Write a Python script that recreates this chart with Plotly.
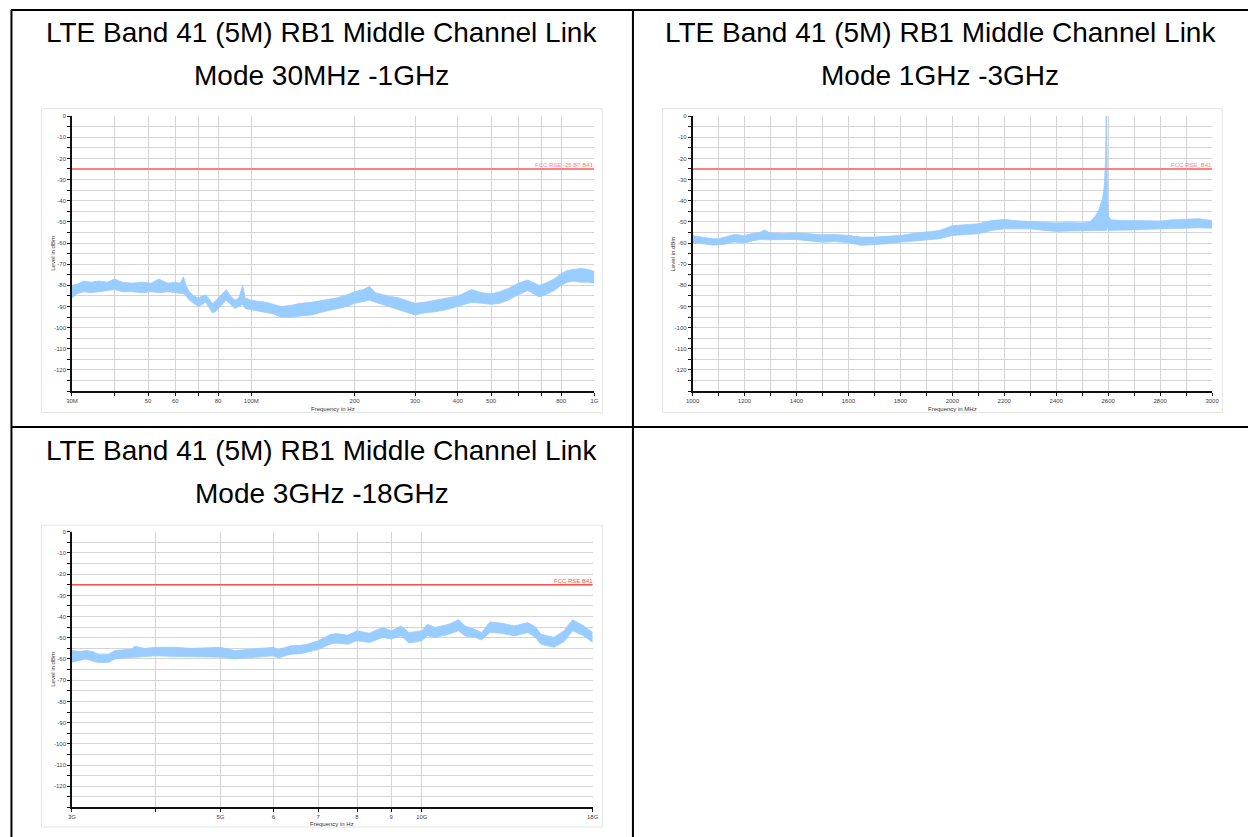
import math
import plotly.graph_objects as go

W, H = 1255, 837

# ---------------- data ----------------
titles_line1 = ["LTE Band 41 (5M) RB1 Middle Channel Link"] * 3
titles_line2 = ["Mode 30MHz -1GHz", "Mode 1GHz -3GHz", "Mode 3GHz -18GHz"]

limit_dbm = -25
limit_labels = ["FCC RSE -25 B7 B41", "FCC RSE_B41", "FCC RSE B41"]

# Chart 1: 30 MHz - 1 GHz (frequency in MHz, band upper / lower in dBm)
c1_freq = [30, 31, 32.5, 34, 36, 38, 40, 42, 45, 48, 51, 53.7, 57, 60, 62, 63.4, 64.5, 66, 68, 70,
           72, 73.5, 75, 77, 78.5, 81, 84.5, 87, 89.5, 92, 94.3, 96, 100, 104, 110, 116, 122, 130,
           139, 150, 162, 177, 190, 200, 212, 221, 230, 250, 270, 300, 320, 344, 370, 400, 439,
           470, 500, 530, 560, 600, 639, 665, 690, 720, 763, 800, 834, 870, 911, 960, 1000]
c1_upper = [-80, -79.5, -78, -78.5, -78, -78.5, -77, -78.5, -79, -78.5, -79, -77, -79, -78.5, -79,
            -76, -80, -83, -85, -86, -85, -84.5, -86, -88.5, -87.5, -85, -82, -85, -87, -86, -80,
            -86, -87, -87.5, -88, -89, -90, -89.5, -88.5, -88, -87, -86, -84.5, -83, -82, -80.5,
            -83.5, -85, -86, -88.5, -88, -87, -86, -85, -82, -83.5, -84, -83, -81.5, -79, -77.5,
            -79, -80, -79, -77, -74.5, -73, -72.5, -72, -72.5, -73.5]
c1_lower = [-86, -84, -83, -83.5, -83, -82.5, -82, -83, -83, -83.5, -83, -83.5, -83, -83.5, -84,
            -84, -85, -87, -88.5, -90, -89, -88, -90, -93, -92.5, -90, -87, -89, -91, -90, -89,
            -91, -91.5, -92, -92.5, -93.5, -95, -95, -94.5, -94, -92.5, -91, -90, -88.5, -87.5,
            -87, -88, -90, -91.5, -94, -93, -92.5, -91.5, -90, -88, -88.5, -89, -88.5, -87, -84.5,
            -82.5, -84, -85.5, -84.5, -82.5, -80, -78.5, -78, -78.5, -78.5, -79]

# Chart 2: 1 GHz - 3 GHz (frequency in MHz)
c2_freq = [1000, 1020, 1050, 1080, 1100, 1130, 1160, 1200, 1230, 1260, 1275, 1300, 1350, 1400, 1450,
           1500, 1550, 1600, 1650, 1700, 1750, 1800, 1850, 1900, 1950, 2000, 2050, 2100, 2150, 2200,
           2250, 2300, 2350, 2400, 2450, 2500, 2530, 2552, 2565, 2578, 2585, 2590, 2592, 2594, 2596,
           2600, 2610, 2650, 2700, 2750, 2800, 2850, 2900, 2950, 3000]
c2_upper = [-56.5, -57, -57.5, -58, -58, -57, -56, -56.4, -55.5, -55, -53.8, -55.3, -55.5, -55.2,
            -55.8, -56.1, -56, -56.4, -57.2, -57.2, -56.8, -56.4, -55.5, -54.9, -54.1, -51.8, -51.3,
            -50.9, -49.4, -48.9, -49.5, -49.8, -50, -50.5, -50.3, -50.5, -50, -47, -44, -39, -33,
            -20, 0.5, 0.5, -25, -47, -49, -49.4, -49.4, -49.5, -49.6, -49, -48.6, -48.5, -49.4]
c2_lower = [-60.3, -60, -60.5, -61, -60.8, -60.5, -59.5, -60, -59, -58.3, -58.5, -58.5, -58.5, -58.3,
            -59, -59.6, -59.3, -59.9, -61.1, -60.8, -60.3, -59.6, -59, -58.3, -58, -56.4, -56, -55.6,
            -54.1, -53.3, -53.3, -53.3, -54, -54.5, -54.3, -54.1, -54, -54, -54, -54, -54, -54, -54,
            -54, -52, -54, -54, -54, -53.8, -53.5, -53.3, -53, -53, -52.8, -53]

# Chart 3: 3 GHz - 18 GHz (frequency in GHz)
c3_freq = [3.0, 3.08, 3.15, 3.22, 3.29, 3.40, 3.48, 3.58, 3.69, 3.72, 3.85, 4.0, 4.28, 4.53, 4.8, 5.0,
           5.25, 5.45, 5.68, 6.0, 6.1, 6.37, 6.6, 6.74, 7.0, 7.29, 7.45, 7.75, 8.0, 8.35, 8.74, 9.0,
           9.31, 9.57, 10.0, 10.19, 10.47, 10.97, 11.35, 11.6, 12.0, 12.28, 12.64, 13.15, 13.75,
           14.4, 14.8, 15.06, 15.75, 16.3, 16.8, 17.46, 18.0]
c3_upper = [-56, -56.5, -56, -56.5, -57.7, -57.7, -56, -55.5, -55.3, -54, -55, -54.5, -54.5, -55,
            -54.8, -54.5, -56, -55.5, -55, -54.5, -55.5, -53.8, -53.5, -53, -51.4, -48.5, -48, -48.8,
            -46.7, -47.8, -45.1, -46.7, -44.4, -47.5, -46.7, -43.6, -45.1, -43.6, -41.5, -44.4, -46,
            -47.5, -42.5, -43.1, -44.4, -42.8, -45, -48.3, -49.8, -46.7, -41.5, -44.4, -47.5]
c3_lower = [-61.5, -60.5, -60, -61, -61.6, -61.6, -60, -59.5, -59.2, -59, -59, -58.5, -58.8, -58.8,
            -59, -59.2, -60, -59.5, -59, -58.5, -59.5, -57.7, -57.5, -56.9, -55.5, -53, -52.5, -53,
            -51.4, -52.2, -49.8, -50.6, -49.1, -52.5, -51.4, -49, -49.8, -48.3, -46.7, -49.1, -49.8,
            -51, -47.5, -47.8, -49.1, -47.5, -50, -53, -54.5, -51.9, -46.7, -49.1, -52.2]

y_ticks = list(range(-130, 1, 5))
y_text = [str(v) if (v % 10 == 0 and v != -130) else "" for v in y_ticks]

c1_xticks = [30, 40, 50, 60, 70, 80, 100, 200, 300, 400, 500, 600, 700, 800, 1000]
c1_xtext = ["30M", "", "50", "60", "", "80", "100M", "200", "300", "400", "500", "", "", "800", "1G"]
c2_xticks = list(range(1000, 3001, 100))
c2_xtext = [str(v) if v % 200 == 0 else "" for v in c2_xticks]
c3_xticks = [3, 4, 5, 6, 7, 8, 9, 10, 18]
c3_xtext = ["3G", "", "5G", "6", "7", "8", "9", "10G", "18G"]

x_titles = ["Frequency in Hz", "Frequency in MHz", "Frequency in Hz"]
y_title = "Level in dBm"

# ---------------- layout helpers ----------------
def px(x):
    return x / W

def py(y):
    return 1 - y / H

# plot-area pixel boxes: (left, right, top, bottom)
boxes = [(65.7, 594.0, 113.5, 389.5), (693.3, 1218.7, 113.5, 389.5), (65.7, 592.3, 530.7, 807.3)]
frames = [(35, 602, 106, 411), (663, 1229, 106, 411), (35, 602, 524, 827)]
limit_colors = ["#ff8080", "#ff8080", "#ff4d4d"]
limit_widths = [2, 2, 1.5]
band_color = "#99ccff"
tick_font = dict(family="Liberation Sans, Arial", size=6, color="#444444")

fig = go.Figure()

series = [(c1_freq, c1_upper, c1_lower), (c2_freq, c2_upper, c2_lower), (c3_freq, c3_upper, c3_lower)]
xranges = [(30, 1000), (1000, 3000), (3, 18)]
xtypes = ["log", "linear", "log"]
xticks = [(c1_xticks, c1_xtext), (c2_xticks, c2_xtext), (c3_xticks, c3_xtext)]

for i in range(3):
    xa = "x" if i == 0 else f"x{i+1}"
    ya = "y" if i == 0 else f"y{i+1}"
    f, up, lo = series[i]
    fig.add_trace(go.Scatter(x=f, y=lo, xaxis=xa, yaxis=ya, mode="lines",
                             line=dict(color=band_color, width=0.8), hoverinfo="skip", showlegend=False))
    fig.add_trace(go.Scatter(x=f, y=up, xaxis=xa, yaxis=ya, mode="lines", fill="tonexty",
                             fillcolor=band_color,
                             line=dict(color=band_color, width=0.8), hoverinfo="skip", showlegend=False))
    x0, x1 = xranges[i]
    fig.add_trace(go.Scatter(x=[x0, x1], y=[limit_dbm, limit_dbm], xaxis=xa, yaxis=ya, mode="lines",
                             line=dict(color=limit_colors[i], width=limit_widths[i]),
                             hoverinfo="skip", showlegend=False))

    l, r, t, b = boxes[i]
    key_x = "xaxis" if i == 0 else f"xaxis{i+1}"
    key_y = "yaxis" if i == 0 else f"yaxis{i+1}"
    if xtypes[i] == "log":
        xr = [math.log10(x0), math.log10(x1)]
    else:
        xr = [x0, x1]
    fig.layout[key_x] = dict(domain=[px(l), px(r)], anchor=ya, type=xtypes[i], range=xr,
                             tickvals=xticks[i][0], ticktext=xticks[i][1], tickfont=tick_font,
                             showgrid=True, gridcolor="#d4d4d4", gridwidth=1,
                             showline=True, linecolor="#111111", linewidth=1.5,
                             ticks="outside", ticklen=3, tickcolor="#111111", tickwidth=1,
                             zeroline=False, fixedrange=True)
    fig.layout[key_y] = dict(domain=[py(b), py(t)], anchor=xa, range=[-130, 0],
                             tickvals=y_ticks, ticktext=y_text, tickfont=tick_font,
                             showgrid=True, gridcolor="#d4d4d4", gridwidth=1,
                             showline=True, linecolor="#111111", linewidth=1.5,
                             ticks="outside", ticklen=3, tickcolor="#111111", tickwidth=1,
                             zeroline=False, fixedrange=True)

shapes = []
annotations = []

# table borders
border = dict(color="black", width=2)
shapes.append(dict(type="line", xref="paper", yref="paper", x0=px(4), x1=px(1255), y0=py(7), y1=py(7), line=border))
shapes.append(dict(type="line", xref="paper", yref="paper", x0=px(4), x1=px(1255), y0=py(425.5), y1=py(425.5), line=border))
shapes.append(dict(type="line", xref="paper", yref="paper", x0=px(4.5), x1=px(4.5), y0=py(7), y1=py(837), line=border))
shapes.append(dict(type="line", xref="paper", yref="paper", x0=px(633), x1=px(633), y0=py(7), y1=py(837), line=border))

# chart frames
for (fl, fr, ft, fb) in frames:
    shapes.append(dict(type="rect", xref="paper", yref="paper", x0=px(fl), x1=px(fr), y0=py(fb), y1=py(ft),
                       line=dict(color="#e4e4e4", width=1), layer="below"))

# cell titles
title_font = dict(family="Liberation Sans, Arial", size=28, color="black")
title_pos = [(318.5, 30, 73), (944, 30, 73), (318.5, 449, 492)]
for i, (cx, y1, y2) in enumerate(title_pos):
    annotations.append(dict(xref="paper", yref="paper", x=px(cx), y=py(y1), text=titles_line1[i],
                            showarrow=False, xanchor="center", yanchor="middle", font=title_font))
    annotations.append(dict(xref="paper", yref="paper", x=px(cx), y=py(y2), text=titles_line2[i],
                            showarrow=False, xanchor="center", yanchor="middle", font=title_font))

# axis titles and limit labels
small = dict(family="Liberation Sans, Arial", size=6, color="#333333")
xt_y = [407, 407, 824]
for i in range(3):
    l, r, t, b = boxes[i]
    annotations.append(dict(xref="paper", yref="paper", x=px((l + r) / 2), y=py(xt_y[i]), text=x_titles[i],
                            showarrow=False, xanchor="center", yanchor="middle", font=small))
    annotations.append(dict(xref="paper", yref="paper", x=px(l - 20), y=py((t + b) / 2), text=y_title,
                            showarrow=False, xanchor="center", yanchor="middle", textangle=-90, font=small))
    ylim = t + (b - t) * (-limit_dbm) / 130.0
    annotations.append(dict(xref="paper", yref="paper", x=px(r + 2), y=py(ylim - 4), text=limit_labels[i],
                            showarrow=False, xanchor="right", yanchor="middle",
                            font=dict(family="Liberation Sans, Arial", size=6, color=limit_colors[i])))

fig.update_layout(width=W, height=H, autosize=False, margin=dict(l=0, r=0, t=0, b=0),
                  paper_bgcolor="white", plot_bgcolor="white", shapes=shapes, annotations=annotations,
                  showlegend=False)

fig.write_html("out.html", config={"displayModeBar": False},
               post_script="document.body.style.margin='0';document.body.style.overflow='hidden';")
